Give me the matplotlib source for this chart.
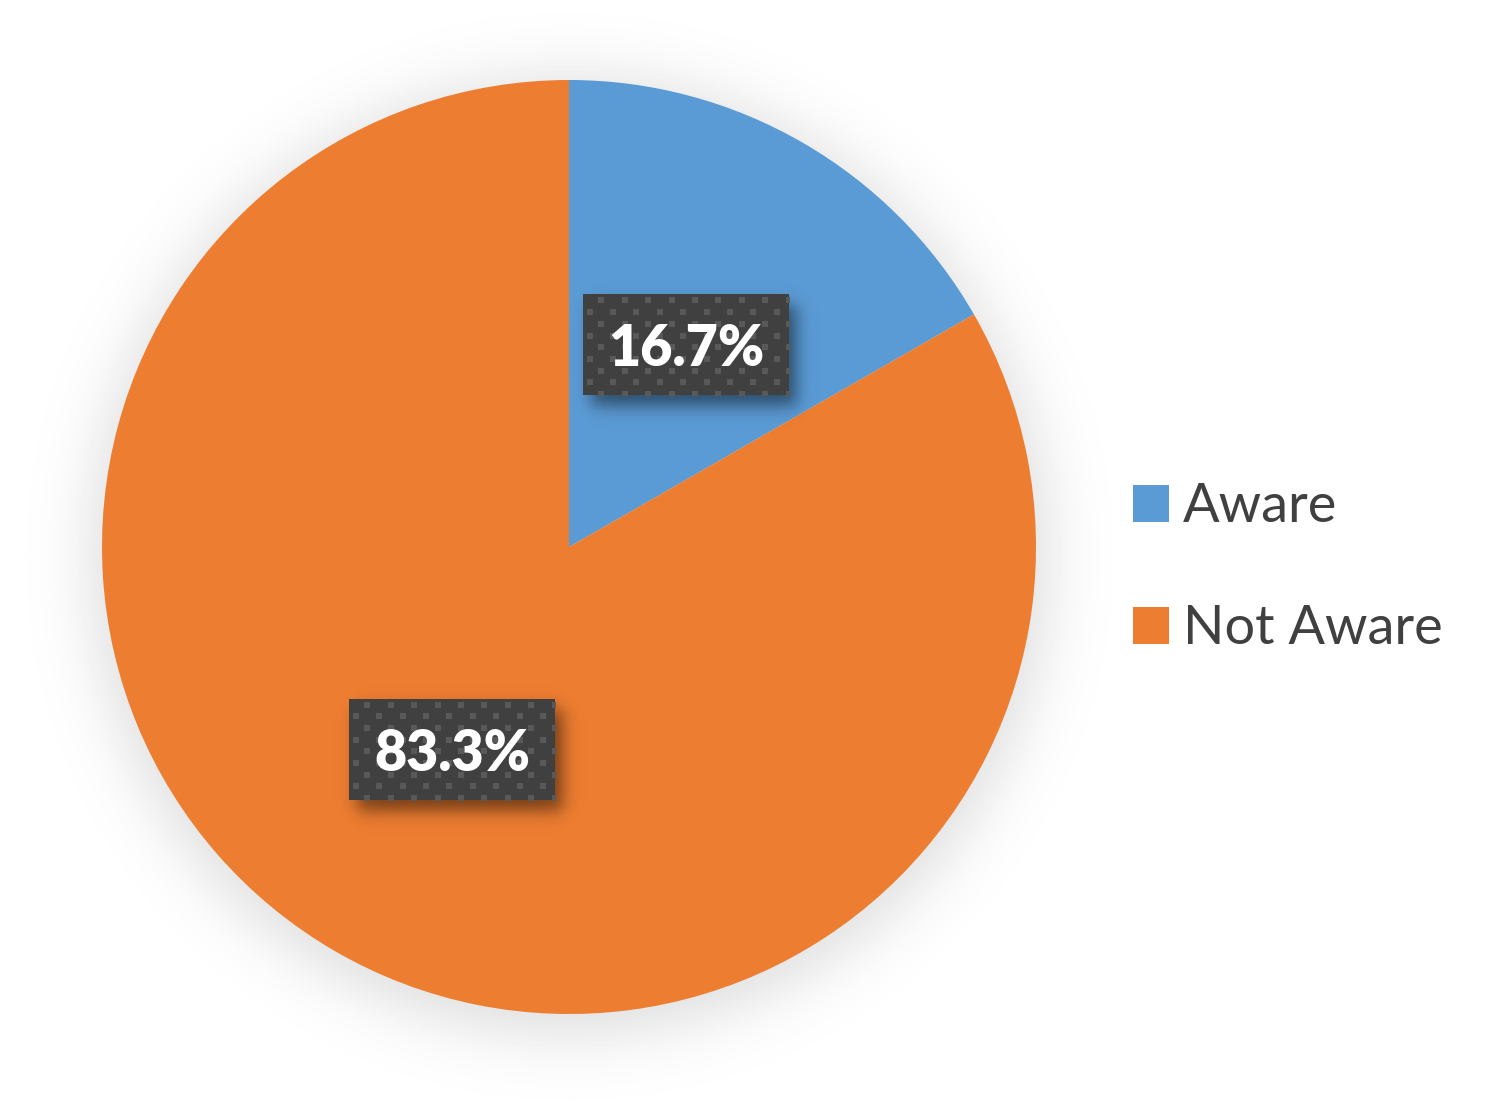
import numpy as np
import matplotlib
matplotlib.use('Agg')
import matplotlib.pyplot as plt
from matplotlib.patches import Rectangle, Patch

# data
labels = ['Aware', 'Not Aware']
values = [16.7, 83.3]
colors = ['#5B9BD5', '#ED7D31']

plt.rcParams['font.family'] = ['Lato', 'DejaVu Sans']

W, H = 1495, 1108
fig = plt.figure(figsize=(W / 100, H / 100), dpi=100)
fig.patch.set_facecolor('white')

# pie centre / radius in pixels
cx, cy, r = 569, 547, 467

# soft outer shadow of the pie (background image)
bg = fig.add_axes([0, 0, 1, 1], zorder=0)
bg.axis('off')
yy, xx = np.mgrid[0:H, 0:W]
dist = np.hypot(xx - cx, yy - (cy + 9))
shade = 0.13 / (1 + np.exp((dist - 478) / 19))
bg.imshow(1 - shade, cmap='gray', vmin=0, vmax=1, extent=(0, W, H, 0), aspect='auto')
bg.set_xlim(0, W)
bg.set_ylim(H, 0)

ax = fig.add_axes([(cx - r) / W, (H - cy - r) / H, 2 * r / W, 2 * r / H], zorder=1)
ax.set_xlim(-1, 1)
ax.set_ylim(-1, 1)
ax.axis('off')

wedges, _, autotexts = ax.pie(values, colors=colors, startangle=90, counterclock=False,
                              radius=1, autopct='%.1f%%', pctdistance=0.5,
                              wedgeprops=dict(linewidth=0, zorder=2),
                              textprops=dict(color='white', fontsize=40, fontweight='heavy'))
ax.set_xlim(-1, 1)
ax.set_ylim(-1, 1)

px = 1.0 / r  # one pixel in data units
bw, bh = 206 * px, 101 * px


def soft_rect(x0, y0, w, h, s, strength):
    # rgba image of a blurred dark rectangle
    pad = 5 * s
    n = 240
    gx = np.linspace(x0 - pad, x0 + w + pad, n)
    gy = np.linspace(y0 - pad, y0 + h + pad, n)
    ax_ = 1 / (1 + np.exp(-(gx - x0) / s)) * 1 / (1 + np.exp((gx - x0 - w) / s))
    ay_ = 1 / (1 + np.exp(-(gy - y0) / s)) * 1 / (1 + np.exp((gy - y0 - h) / s))
    a = strength * np.outer(ay_, ax_)
    img = np.zeros((n, n, 4))
    img[..., 3] = a
    return img, (x0 - pad, x0 + w + pad, y0 - pad, y0 + h + pad)


for t in autotexts:
    x, y = t.get_position()
    t.set_zorder(6)
    t.set_ha('center')
    t.set_va('center_baseline')
    x0, y0 = x - bw / 2, y - bh / 2
    img, ext = soft_rect(x0 + 8 * px, y0 - 11 * px, bw, bh, 5 * px, 0.5)
    ax.imshow(img, extent=ext, origin='lower', zorder=3, aspect='auto', interpolation='bilinear')
    box = Rectangle((x0, y0), bw, bh, facecolor='#404040', edgecolor='none', zorder=4)
    ax.add_patch(box)
    # dotted texture of the label fill
    dx, dy = [], []
    for i, oy in enumerate(np.arange(6, 101, 11.7)):
        off = 0 if i % 2 == 0 else 11.7
        for ox in np.arange(-5 + off, 210, 23.4):
            dx.append(x0 + ox * px)
            dy.append(y0 + bh - oy * px)
    sc = ax.scatter(dx, dy, marker='s', s=16, color='#595959', linewidths=0, zorder=5)
    sc.set_clip_path(box)
ax.set_xlim(-1, 1)
ax.set_ylim(-1, 1)

leg = fig.legend(handles=[Patch(facecolor=c, edgecolor='none', label=l) for c, l in zip(colors, labels)],
                 loc='upper left', bbox_to_anchor=(1106 / W, 1 - 455 / H),
                 frameon=False, fontsize=39, handlelength=0.67, handleheight=0.67,
                 handletextpad=0.25, labelspacing=1.35, borderpad=0)
for t in leg.get_texts():
    t.set_color('#404040')

fig.savefig('out.png', dpi=100, facecolor='white')
